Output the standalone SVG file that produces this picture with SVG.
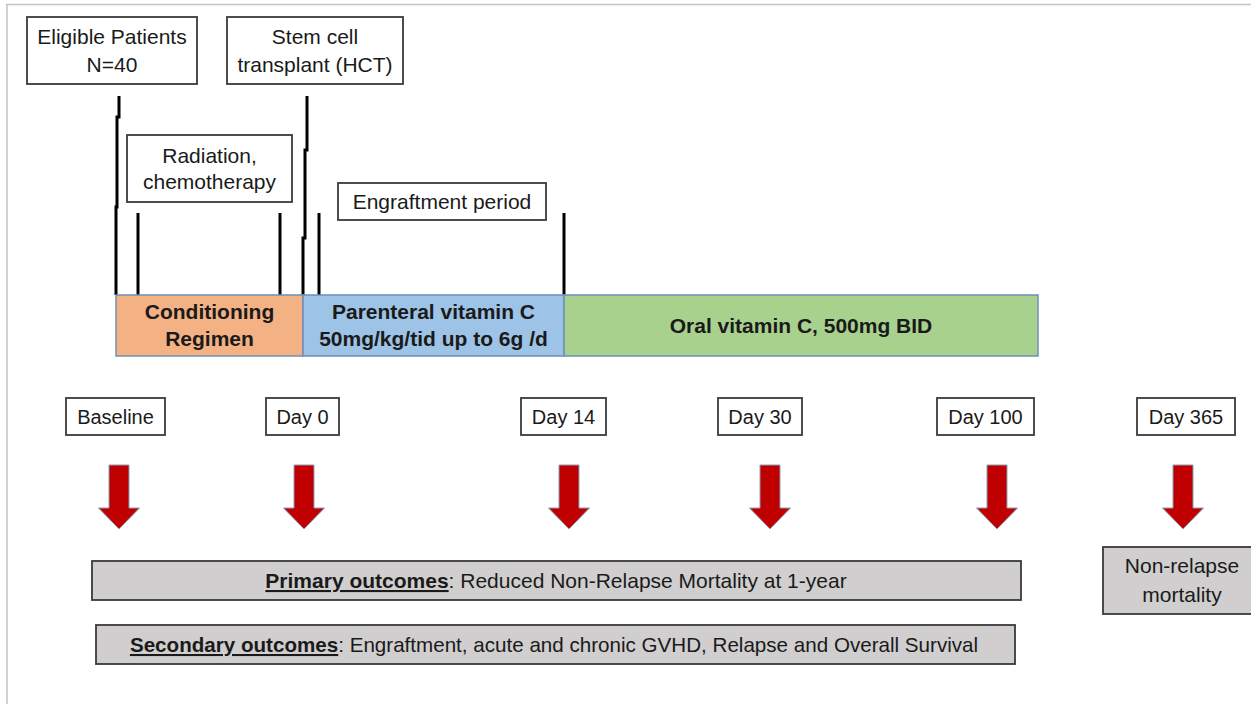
<svg xmlns="http://www.w3.org/2000/svg" width="1251" height="704" viewBox="0 0 1251 704">
<style>
  text { font-family: "Liberation Sans", Arial, sans-serif; font-size: 21px; fill: #1a1a1a; text-anchor: middle; }
  .b { font-weight: bold; }
  .day { font-size: 20px; }
  .sec { font-size: 20.6px; }
  .box { fill: #ffffff; stroke: #3a3a3a; stroke-width: 1.8; }
  .gbox { fill: #d0cece; stroke: #3a3a3a; stroke-width: 1.8; }
  .tick { fill: none; stroke: #000000; stroke-width: 3; }
  .seg { stroke: #6f8fb8; stroke-width: 1.5; }
  .arrow { fill: #c00000; stroke: #8aa0bd; stroke-width: 1; }
</style>
<rect x="0" y="0" width="1251" height="704" fill="#ffffff"/>
<g id="frame">
  <line x1="6" y1="4.5" x2="1251" y2="4.5" stroke="#c4c4c4" stroke-width="1.5"/>
  <line x1="7" y1="4" x2="7" y2="704" stroke="#c4c4c4" stroke-width="1.5"/>
</g>

<g id="connectors">
  <polyline class="tick" points="119,96 119,117 117,117 117,207 116,207 116,295"/>
  <polyline class="tick" points="307,96 307,150 305,150 305,238 303,238 303,295"/>
  <line class="tick" x1="138" y1="213" x2="138" y2="295"/>
  <line class="tick" x1="280" y1="213" x2="280" y2="295"/>
  <line class="tick" x1="319" y1="213" x2="319" y2="295"/>
  <line class="tick" x1="564" y1="213" x2="564" y2="295"/>
  <path class="arrow" d="M109,465 h20 v43 h10.5 L119,529 L98.5,508 h10.5 z"/>
  <path class="arrow" d="M294,465 h20 v43 h10.5 L304,529 L283.5,508 h10.5 z"/>
  <path class="arrow" d="M559,465 h20 v43 h10.5 L569,529 L548.5,508 h10.5 z"/>
  <path class="arrow" d="M760,465 h20 v43 h10.5 L770,529 L749.5,508 h10.5 z"/>
  <path class="arrow" d="M987,465 h20 v43 h10.5 L997,529 L976.5,508 h10.5 z"/>
  <path class="arrow" d="M1173,465 h20 v43 h10.5 L1183,529 L1162.5,508 h10.5 z"/>
</g>

<g id="eligible">
  <rect class="box" x="27" y="17" width="170" height="67"/>
  <text x="112" y="44">Eligible Patients</text>
  <text x="112" y="72">N=40</text>
</g>
<g id="stemcell">
  <rect class="box" x="227" y="17" width="176" height="67"/>
  <text x="315" y="44">Stem cell</text>
  <text x="315" y="72">transplant (HCT)</text>
</g>
<g id="radiation">
  <rect class="box" x="127" y="135" width="165" height="67"/>
  <text x="209.5" y="163">Radiation,</text>
  <text x="209.5" y="189">chemotherapy</text>
</g>
<g id="engraftment">
  <rect class="box" x="338" y="183" width="208" height="37"/>
  <text x="442" y="209">Engraftment period</text>
</g>

<g id="conditioning">
  <rect class="seg" x="116" y="295" width="187" height="61" fill="#f4b183"/>
  <text class="b" x="209.5" y="319">Conditioning</text>
  <text class="b" x="209.5" y="346">Regimen</text>
</g>
<g id="parenteral">
  <rect class="seg" x="303" y="295" width="261" height="61" fill="#9dc3e6"/>
  <text class="b" x="433.5" y="319">Parenteral vitamin C</text>
  <text class="b" x="433.5" y="346">50mg/kg/tid up to 6g /d</text>
</g>
<g id="oral">
  <rect class="seg" x="564" y="295" width="474" height="61" fill="#a9d18e"/>
  <text class="b" x="801" y="333">Oral vitamin C, 500mg BID</text>
</g>

<g id="baseline">
  <rect class="box" x="66" y="398" width="99" height="37"/>
  <text class="day" x="115.5" y="424">Baseline</text>
</g>
<g id="day0">
  <rect class="box" x="266" y="398" width="73" height="37"/>
  <text class="day" x="302.5" y="424">Day 0</text>
</g>
<g id="day14">
  <rect class="box" x="521" y="398" width="85" height="37"/>
  <text class="day" x="563.5" y="424">Day 14</text>
</g>
<g id="day30">
  <rect class="box" x="718" y="398" width="84" height="37"/>
  <text class="day" x="760" y="424">Day 30</text>
</g>
<g id="day100">
  <rect class="box" x="937" y="398" width="97" height="37"/>
  <text class="day" x="985.5" y="424">Day 100</text>
</g>
<g id="day365">
  <rect class="box" x="1137" y="398" width="98" height="37"/>
  <text class="day" x="1186" y="424">Day 365</text>
</g>

<g id="primary">
  <rect class="gbox" x="92" y="561" width="929" height="39"/>
  <text x="556" y="588"><tspan class="b" text-decoration="underline">Primary outcomes</tspan>: Reduced Non-Relapse Mortality at 1-year</text>
</g>
<g id="secondary">
  <rect class="gbox" x="96" y="625" width="919" height="39"/>
  <text class="sec" x="554" y="652"><tspan class="b" text-decoration="underline">Secondary outcomes</tspan>: Engraftment, acute and chronic GVHD, Relapse and Overall Survival</text>
</g>
<g id="nonrelapse">
  <rect class="gbox" x="1103" y="547" width="152" height="67"/>
  <text x="1182" y="573">Non-relapse</text>
  <text x="1182" y="602">mortality</text>
</g>
</svg>
